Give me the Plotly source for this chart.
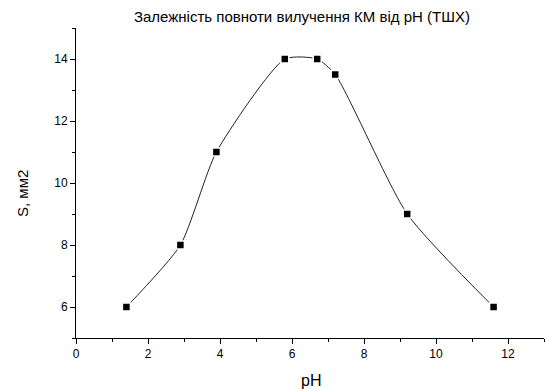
import plotly.graph_objects as go

ph = [1.4, 2.9, 3.9, 5.8, 6.7, 7.2, 9.2, 11.6]
s_mm2 = [6, 8, 11, 14, 14, 13.5, 9, 6]
x_ticks = [0, 2, 4, 6, 8, 10, 12]
y_ticks = [6, 8, 10, 12, 14]

fig = go.Figure()
fig.add_trace(go.Scatter(x=ph, y=s_mm2, mode="lines", line=dict(shape="spline", smoothing=0.6, color="#222", width=1), hoverinfo="skip"))
fig.add_trace(go.Scatter(x=ph, y=s_mm2, mode="markers", marker=dict(symbol="square", size=8, color="black", line=dict(color="white", width=1.5))))

axis_common = dict(showgrid=False, zeroline=False, showline=True, linecolor="black", linewidth=1,
                   ticks="outside", ticklen=5, tickcolor="black", tickfont=dict(size=12, color="black", family="Liberation Sans, Arial"),
                   minor=dict(ticks="outside", ticklen=3, tickcolor="black", dtick=1, showgrid=False))
fig.update_layout(
    width=545, height=389,
    margin=dict(l=76, r=1, t=28, b=51),
    plot_bgcolor="white", paper_bgcolor="white",
    showlegend=False,
    font=dict(family="Liberation Sans, Arial", color="black"),
    title=dict(text="Залежність повноти вилучення КМ від pH (ТШХ)", x=0.554, xanchor="center", y=0.956, yanchor="middle", font=dict(size=15, color="black")),
    xaxis=dict(range=[0, 13], tickvals=x_ticks, **axis_common),
    yaxis=dict(range=[5, 15], tickvals=y_ticks, **axis_common),
    annotations=[
        dict(text="pH", xref="paper", yref="paper", x=0.502, y=-0.1355, xanchor="center", yanchor="middle", showarrow=False, font=dict(size=16)),
        dict(text="S, мм2", xref="paper", yref="paper", x=-0.1154, y=0.4677, xanchor="center", yanchor="middle", textangle=-90, showarrow=False, font=dict(size=15)),
    ],
)
fig.update_xaxes(minor=dict(tick0=1, dtick=2))
fig.update_yaxes(minor=dict(tick0=5, dtick=2))
fig.write_html("out.html", config={"displayModeBar": False},
               post_script="document.body.style.margin='0';document.body.style.overflow='hidden';")
